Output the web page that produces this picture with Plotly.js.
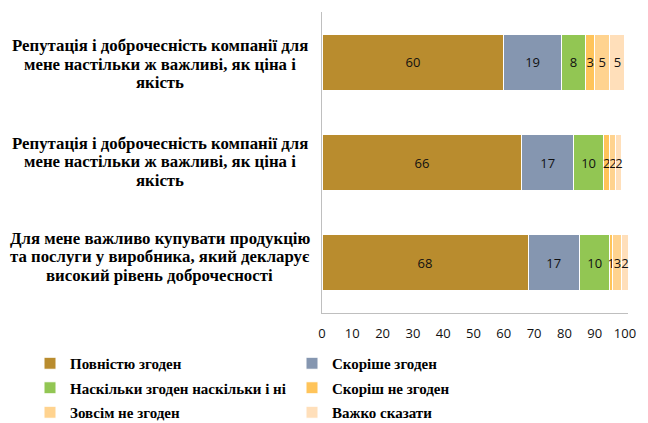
<!DOCTYPE html>
<html>
<head>
<meta charset="utf-8">
<script src="https://cdn.plot.ly/plotly-3.0.1.min.js"></script>
<style>html,body{margin:0;padding:0;background:#fff;}#chart{width:648px;height:423px;}</style>
</head>
<body>
<div id="chart"></div>
<script>
const categories = [
  "Репутація і доброчесність компанії для<br>мене настільки ж важливі, як ціна і<br>якість",
  "Репутація і доброчесність компанії для<br>мене настільки ж важливі, як ціна і<br>якість",
  "Для мене важливо купувати продукцію<br>та послуги у виробника, який декларує<br>високий рівень доброчесності"
];
const seriesNames = ["Повністю згоден", "Скоріше згоден", "Наскільки згоден наскільки і ні", "Скоріш не згоден", "Зовсім не згоден", "Важко сказати"];
const fullyAgree = [60, 66, 68];
const ratherAgree = [19, 17, 17];
const neutral = [8, 10, 10];
const ratherDisagree = [3, 2, 1];
const disagree = [5, 2, 3];
const hardToSay = [5, 2, 2];
const xTicks = [0, 10, 20, 30, 40, 50, 60, 70, 80, 90, 100];

const seriesValues = [fullyAgree, ratherAgree, neutral, ratherDisagree, disagree, hardToSay];
const colors = ["#B98C2E", "#8596B0", "#92C653", "#FFC45A", "#FFD38F", "#FFDFBA"];
const yIdx = categories.map((c, i) => i);
const serif = "Liberation Serif";
const sans = "Open Sans";

const traces = seriesValues.map((vals, s) => ({
  type: "bar",
  orientation: "h",
  name: seriesNames[s],
  legend: s % 2 === 0 ? "legend" : "legend2",
  legendgroup: "g" + s,
  x: vals,
  y: yIdx,
  text: vals.map(String),
  textposition: "inside",
  insidetextanchor: "middle",
  textangle: 0,
  constraintext: "none",
  textfont: {family: sans, size: 13, color: "#111"},
  marker: {color: colors[s], line: {color: "#ffffff", width: 1}},
  hoverinfo: "none",
  cliponaxis: false
}));

// category labels: one annotation per line for tight Excel-like line spacing
const labelShift = [-2, 1, 6];
const lineGap = 18.5;
const annotations = [];
categories.forEach((c, i) => {
  const lines = c.split("<br>");
  lines.forEach((ln, j) => {
    annotations.push({
      xref: "paper", yref: "y",
      x: -0.531, y: i,
      xanchor: "center", yanchor: "middle",
      yshift: ((lines.length - 1) / 2 - j) * lineGap + labelShift[i],
      text: ln, showarrow: false, align: "center",
      font: {family: serif, size: 16.8, color: "#000", weight: "bold"}
    });
  });
});

const legendBase = {
  orientation: "v",
  xref: "container", yref: "container",
  yanchor: "top", xanchor: "left",
  traceorder: "grouped",
  tracegroupgap: 2,
  bgcolor: "rgba(0,0,0,0)",
  font: {family: serif, size: 15, color: "#000", weight: "bold"},
  itemclick: false
};

const layout = {
  width: 648, height: 423,
  margin: {l: 322, r: 20, t: 12, b: 110, autoexpand: false},
  barmode: "stack",
  bargap: 0.44,
  plot_bgcolor: "#fff", paper_bgcolor: "#fff",
  showlegend: true,
  legend: Object.assign({}, legendBase, {x: 30/648, y: 1 - 347/423}),
  legend2: Object.assign({}, legendBase, {x: 292/648, y: 1 - 347/423}),
  xaxis: {
    range: [0, 101],
    tickvals: xTicks,
    ticktext: xTicks.map(String),
    showgrid: false, zeroline: false,
    showline: true, linecolor: "#BFBFBF", linewidth: 1,
    ticks: "",
    ticklabelstandoff: 8,
    tickfont: {family: sans, size: 13, color: "#111"},
    fixedrange: true
  },
  yaxis: {
    range: [2.5, -0.5],
    tickvals: yIdx,
    showticklabels: false,
    showgrid: false, zeroline: false,
    showline: true, linecolor: "#BFBFBF", linewidth: 1,
    ticks: "",
    fixedrange: true
  },
  annotations: annotations
};

Plotly.newPlot("chart", traces, layout, {displayModeBar: false, staticPlot: true});
</script>
</body>
</html>
